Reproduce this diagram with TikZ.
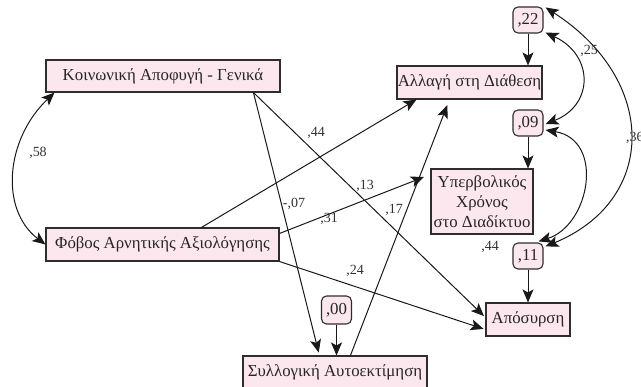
\documentclass[tikz,border=0pt]{standalone}
\usepackage{fontspec}
\setmainfont{Liberation Serif}
\usetikzlibrary{arrows.meta}
\definecolor{boxfill}{RGB}{252,231,239}
\definecolor{boxline}{RGB}{45,45,45}
\definecolor{labcol}{RGB}{50,50,50}
\begin{document}
\begin{tikzpicture}[x=1pt,y=-1pt,
  box/.style={draw=boxline, fill=boxfill, line width=1.1pt, inner sep=0pt, align=center,
    font=\fontsize{16.8}{20}\selectfont, text=black!85},
  err/.style={box, rounded corners=5pt, minimum width=30pt, minimum height=26pt},
  tip/.tip={Stealth[length=13pt,width=11pt,inset=3pt]},
  arr/.style={line width=1pt, draw=black!90, -tip},
  darr/.style={line width=1pt, draw=black!90, tip-tip},
  lab/.style={font=\fontsize{14}{16}\selectfont, inner sep=0pt, text=labcol}]
\useasboundingbox (0,0) rectangle (641,387);
% boxes
\node[box, minimum width=234pt, minimum height=32pt] (koin) at (163,76) {Κοινωνική Αποφυγή - Γενικά};
\node[box, minimum width=233pt, minimum height=33pt] (fobos) at (162.5,244.5) {Φόβος Αρνητικής Αξιολόγησης};
\node[box, minimum width=145pt, minimum height=33pt] (allagi) at (469.5,82.5) {Αλλαγή στη Διάθεση};
\node[box, minimum width=102pt, minimum height=65pt] (yperv) at (482,201.5) {Υπερβολικός\\Χρόνος\\στο Διαδίκτυο};
\node[box, minimum width=84pt, minimum height=33pt] (apos) at (528,319.5) {Απόσυρση};
\node[box, minimum width=184pt, minimum height=33pt] (syll) at (335,372.5) {Συλλογική Αυτοεκτίμηση};
\node[err] (e22) at (528,20) {,22};
\node[err] (e09) at (528,123) {,09};
\node[err] (e11) at (528,256) {,11};
\node[err, minimum height=28pt] (e00) at (336.5,310) {,00};
% error arrows
\draw[arr] (e22.south) -- (e22.south |- allagi.north);
\draw[arr] (e09.south) -- (e09.south |- yperv.north);
\draw[arr] (e11.south) -- (e11.south |- apos.north);
\draw[arr] (e00.south) -- (e00.south |- syll.north);
% structural paths
\draw[arr, shorten >=3pt] ([xshift=208pt]koin.south west) -- ([xshift=77pt]syll.north west);
\draw[arr, shorten >=2pt] ([xshift=208pt]koin.south west) -- ([yshift=2pt]apos.west);
\draw[arr] ([xshift=156pt]fobos.north west) -- ([xshift=20pt]allagi.south west);
\draw[arr, shorten >=7pt] ([yshift=-6pt]fobos.north east) -- ([yshift=-6pt]yperv.north west);
\draw[arr, shorten >=2pt] (fobos.south east) -- ([yshift=7pt]apos.south west);
\draw[arr, shorten >=6pt] ([xshift=108pt]syll.north west) -- ([xshift=53pt]allagi.south west);
% covariances
\draw[darr] ([xshift=9pt]koin.south west) .. controls (5,140) and (0,210) .. (fobos.west);
\draw[darr] ([xshift=2pt,yshift=-1pt]e22.north east) .. controls (658,80) and (658,200) .. ([xshift=2pt,yshift=-4pt]e11.north east);
\draw[darr] ([xshift=2pt,yshift=1pt]e22.south east) .. controls (594,55) and (594,105) .. ([xshift=2pt,yshift=-1pt]e09.east);
\draw[darr] ([xshift=2pt,yshift=-7pt]e09.east) .. controls (605,140) and (590,225) .. ([xshift=-5pt,yshift=1pt]e11.north east);
% labels
\node[lab] (l58) at (38,153) {,58};
\node[lab] (l07) at (294,204) {-,07};
\node[lab] (l44a) at (316,133) {,44};
\node[lab] (l13) at (365,186) {,13};
\node[lab] (l31) at (329,219) {,31};
\node[lab] (l17) at (394,210) {,17};
\node[lab] (l24) at (355,271) {,24};
\node[lab] (l44b) at (490,247) {,44};
\node[lab] (l25) at (589,51) {,25};
\node[lab, anchor=west] (l36) at (626,138) {,36};
\end{tikzpicture}
\end{document}
